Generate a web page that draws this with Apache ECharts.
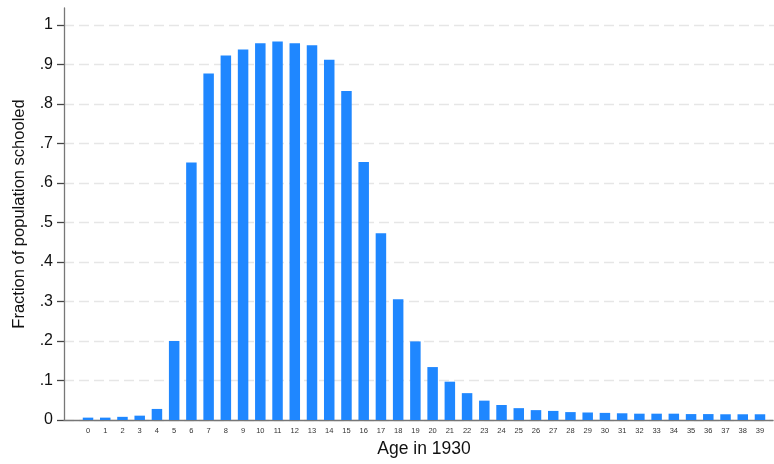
<!DOCTYPE html>
<html>
<head>
<meta charset="utf-8">
<script src="https://cdn.jsdelivr.net/npm/echarts@6/dist/echarts.min.js"></script>
<style>
  html, body { margin: 0; padding: 0; background: #fff; }
  #chart { width: 774px; height: 464px; }
</style>
</head>
<body>
<div id="chart"></div>
<script>
// ages 0..39
var ages = [];
for (var a = 0; a <= 39; a++) ages.push(String(a));

// fraction schooled
var schooled = [
  0.006, 0.006, 0.008, 0.011, 0.028, 0.200, 0.652, 0.877, 0.923, 0.938,
  0.954, 0.958, 0.954, 0.949, 0.912, 0.833, 0.653, 0.473, 0.306, 0.199,
  0.134, 0.097, 0.068, 0.049, 0.038, 0.030, 0.025, 0.023, 0.020, 0.019,
  0.018, 0.017, 0.016, 0.016, 0.016, 0.015, 0.015, 0.0145, 0.0145, 0.0145
];

var yTicks = ['0', '.1', '.2', '.3', '.4', '.5', '.6', '.7', '.8', '.9', '1'];

var font = 'Liberation Sans, Arial, sans-serif';
var axisGray = '#777';
var chart = echarts.init(document.getElementById('chart'));

var option = {
  backgroundColor: '#ffffff',
  animation: false,
  textStyle: { fontFamily: font },
  grid: [
    // outer frame: axis lines + y title
    { left: 64, right: 1, top: 8, bottom: 44, outerBoundsMode: 'none' },
    // y labels / gridlines
    { left: 64, right: 0, top: 25, bottom: 44, outerBoundsMode: 'none' },
    // bars
    { left: 79.4, right: 5.4, top: 25, bottom: 44, outerBoundsMode: 'none' },
    // narrow strip left of the axis: its split lines act as tick marks
    { left: 57, width: 7, top: 25, bottom: 44, outerBoundsMode: 'none' }
  ],
  xAxis: [
    {
      gridIndex: 0, type: 'value', min: 0, max: 1,
      axisLine: { show: true, lineStyle: { color: axisGray, width: 1.3 } },
      axisTick: { show: false }, axisLabel: { show: false }, splitLine: { show: false }
    },
    {
      gridIndex: 1, type: 'value', min: 0, max: 1, show: false
    },
    {
      gridIndex: 2, type: 'category', data: ages,
      name: 'Age in 1930', nameLocation: 'middle', nameGap: 20,
      nameTextStyle: { fontSize: 17.5, color: '#111', fontFamily: font },
      axisLine: { show: false }, axisTick: { show: false },
      axisLabel: { fontSize: 7.5, color: '#333', margin: 7, interval: 0 }
    },
    {
      gridIndex: 3, type: 'value', min: 0, max: 1, show: false
    }
  ],
  yAxis: [
    {
      gridIndex: 0, type: 'value', min: 0, max: 1,
      name: 'Fraction of population schooled', nameLocation: 'middle', nameGap: 36,
      nameTextStyle: { fontSize: 16.5, color: '#111', fontFamily: font },
      axisLine: { show: true, lineStyle: { color: axisGray, width: 1.3 } },
      axisTick: { show: false }, axisLabel: { show: false }, splitLine: { show: false }
    },
    {
      gridIndex: 1, type: 'value', min: 0, max: 1, interval: 0.1,
      axisLine: { show: false },
      axisTick: { show: false },
      axisLabel: {
        fontSize: 16, color: '#111', margin: 11,
        formatter: function (v) { return yTicks[Math.round(v * 10)]; }
      },
      splitLine: { show: true, lineStyle: { color: '#e6e6e6', type: [10, 5], width: 1.3 } }
    },
    {
      gridIndex: 2, type: 'value', min: 0, max: 1, show: false
    },
    {
      gridIndex: 3, type: 'value', min: 0, max: 1, interval: 0.1,
      axisLine: { show: false }, axisTick: { show: false }, axisLabel: { show: false },
      splitLine: { show: true, lineStyle: { color: '#444', width: 1.3 } }
    }
  ],
  series: [{
    type: 'bar',
    xAxisIndex: 2,
    yAxisIndex: 2,
    data: schooled,
    barWidth: 10.5,
    itemStyle: { color: '#1f87ff' }
  }]
};

chart.setOption(option);
</script>
</body>
</html>
